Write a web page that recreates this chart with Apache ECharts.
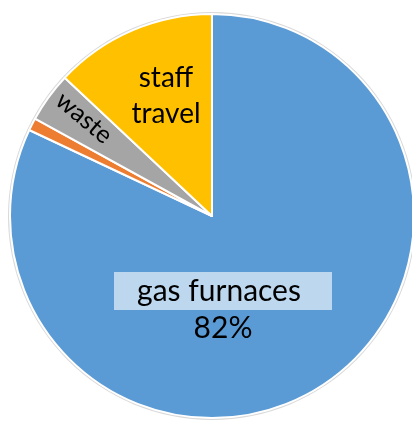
<!DOCTYPE html>
<html>
<head>
<meta charset="utf-8">
<script src="https://cdn.jsdelivr.net/npm/echarts@6/dist/echarts.min.js"></script>
<style>html,body{margin:0;padding:0;background:#fff}#c{width:412px;height:424px}</style>
</head>
<body>
<div id="c"></div>
<script>
const categories = ['gas furnaces', 'other', 'waste', 'staff travel'];
const values = [82, 1, 4, 13];
const colors = ['#5B9BD5', '#ED7D31', '#A5A5A5', '#FFC000'];

const FONT = 'Lato, "Open Sans", sans-serif';
const chart = echarts.init(document.getElementById('c'), null, {renderer: 'canvas'});

const labelPos = [
  {x: 223, y: 309},
  null,
  {x: 84, y: 118},
  {x: 166, y: 96}
];

const data = categories.map((name, i) => {
  const item = {name, value: values[i], itemStyle: {color: colors[i]}};
  if (i === 0) {
    item.label = {
      show: true,
      formatter: '{box|gas furnaces}\n{pct|' + values[i] + '%}',
      rich: {
        box: {backgroundColor: '#BDD7EE', width: 210, height: 38, align: 'center', fontSize: 30, fontFamily: FONT, color: '#000', padding: [0, 8, 0, 0]},
        pct: {fontSize: 30, fontFamily: FONT, color: '#000', height: 36, align: 'center'}
      }
    };
  } else if (i === 1) {
    item.label = {show: false};
  } else if (i === 2) {
    item.label = {show: true, formatter: 'waste', rotate: -40, fontSize: 25, fontFamily: FONT, color: '#000'};
  } else {
    item.label = {show: true, formatter: 'staff\ntravel', fontSize: 28, lineHeight: 36, fontFamily: FONT, color: '#000', align: 'center'};
  }
  return item;
});

chart.setOption({
  animation: false,
  series: [
    {
      type: 'pie',
      silent: true,
      center: [212, 216],
      radius: [202, 204],
      startAngle: 90,
      label: {show: false},
      data: [{value: 1, itemStyle: {color: '#D9D9D9'}}]
    },
    {
      type: 'pie',
      center: [212, 216],
      radius: [0, 202],
      startAngle: 90,
      clockwise: true,
      avoidLabelOverlap: false,
      itemStyle: {borderColor: '#fff', borderWidth: 2},
      label: {show: true, position: 'inside'},
      labelLine: {show: false},
      labelLayout: function (p) {
        const pos = labelPos[p.dataIndex];
        if (!pos) return {};
        return {x: pos.x, y: pos.y, align: 'center', verticalAlign: 'middle'};
      },
      data: data
    }
  ]
});
</script>
</body>
</html>
